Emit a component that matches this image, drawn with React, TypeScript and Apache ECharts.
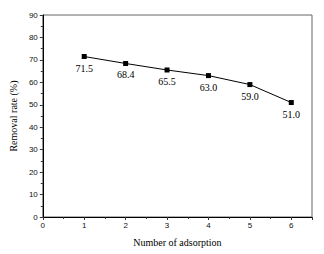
import React, { useEffect, useRef } from "react";
import * as echarts from "echarts";

const cycles = [1, 2, 3, 4, 5, 6];
const removalRate = [71.5, 68.4, 65.5, 63.0, 59.0, 51.0];
const xTitle = "Number of adsorption";
const yTitle = "Removal rate (%)";

export default function App() {
  const ref = useRef<HTMLDivElement>(null);
  useEffect(() => {
    if (!ref.current) return;
    const chart = echarts.init(ref.current, null, { renderer: "svg" });
    const data = cycles.map((c, i) => [c, removalRate[i]]);
    chart.setOption({
      animation: false,
      backgroundColor: "#fff",
      grid: {
        left: 41,
        top: 15,
        right: 12,
        bottom: 37,
        show: true,
        borderColor: "#666",
        borderWidth: 1,
      },
      xAxis: {
        type: "value",
        min: 0,
        max: 6.5,
        interval: 1,
        name: xTitle,
        nameLocation: "middle",
        nameGap: 20,
        nameTextStyle: { fontFamily: "Liberation Serif", fontSize: 10, color: "#000" },
        axisLine: { show: true, onZero: false, lineStyle: { color: "#000", width: 1 } },
        axisTick: { show: true, inside: false, length: 3, lineStyle: { color: "#333" } },
        minorTick: { show: true, splitNumber: 2, length: 2, lineStyle: { color: "#333" } },
        axisLabel: {
          fontFamily: "Liberation Sans",
          fontSize: 8,
          color: "#111",
          margin: 4,
          formatter: (v: number) => (v > 6 ? "" : String(v)),
        },
        splitLine: { show: false },
      },
      yAxis: {
        type: "value",
        min: 0,
        max: 90,
        interval: 10,
        name: yTitle,
        nameLocation: "middle",
        nameGap: 24,
        nameTextStyle: { fontFamily: "Liberation Serif", fontSize: 10, color: "#000" },
        axisLine: { show: true, onZero: false, lineStyle: { color: "#000", width: 1 } },
        axisTick: { show: true, inside: false, length: 3, lineStyle: { color: "#333" } },
        minorTick: { show: true, splitNumber: 2, length: 2, lineStyle: { color: "#333" } },
        axisLabel: {
          fontFamily: "Liberation Sans",
          fontSize: 8,
          color: "#111",
          margin: 5,
        },
        splitLine: { show: false },
      },
      series: [
        {
          type: "line",
          data,
          symbol: "rect",
          symbolSize: 5,
          itemStyle: { color: "#000" },
          lineStyle: { color: "#000", width: 1 },
          label: {
            show: true,
            position: "bottom",
            distance: 4,
            fontFamily: "Liberation Serif",
            fontSize: 10,
            color: "#000",
            formatter: (p: any) => Number(p.value[1]).toFixed(1),
          },
        },
      ],
    });
    return () => chart.dispose();
  }, []);
  return (
    <div
      ref={ref}
      style={{ position: "fixed", left: 0, top: 0, width: 324, height: 254 }}
    />
  );
}
